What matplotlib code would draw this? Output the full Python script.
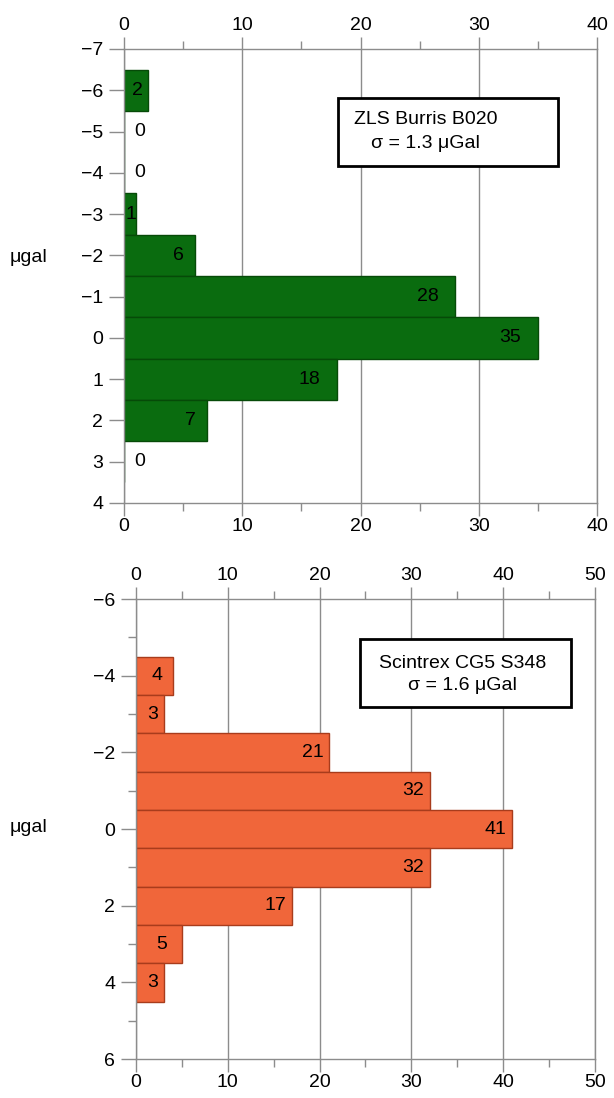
import matplotlib.pyplot as plt
from matplotlib.ticker import MultipleLocator
from matplotlib.patches import Rectangle

plt.rcParams['font.family'] = ['Liberation Sans', 'DejaVu Sans']

# ZLS Burris B020 residuals (ugal) and counts
zls_bins = [-6, -5, -4, -3, -2, -1, 0, 1, 2, 3]
zls_counts = [2, 0, 0, 1, 6, 28, 35, 18, 7, 0]

# Scintrex CG5 S348 residuals (ugal) and counts
cg5_bins = [-4, -3, -2, -1, 0, 1, 2, 3, 4]
cg5_counts = [4, 3, 21, 32, 41, 32, 17, 5, 3]

grey = '#8c8c8c'
fs = 14

fig = plt.figure(figsize=(6.14, 10.98), dpi=100)
ax1 = fig.add_axes([0.2020, 0.5419, 0.7703, 0.4135])
ax2 = fig.add_axes([0.2215, 0.0355, 0.7475, 0.4189])


def style(ax, xmax, ymin, ymax, ymajor):
    ax.set_xlim(0, xmax)
    ax.set_ylim(ymax, ymin)  # inverted, negatives on top
    ax.xaxis.set_major_locator(MultipleLocator(10))
    ax.xaxis.set_minor_locator(MultipleLocator(5))
    ax.yaxis.set_major_locator(MultipleLocator(ymajor))
    ax.yaxis.set_minor_locator(MultipleLocator(1))
    ax.tick_params(axis='both', which='both', color=grey, width=1,
                   labelsize=fs, labelcolor='black')
    ax.tick_params(axis='x', which='both', top=True, labeltop=True,
                   bottom=True, labelbottom=True)
    ax.tick_params(axis='x', which='major', length=9, pad=2)
    ax.tick_params(axis='x', which='minor', length=6)
    ax.tick_params(axis='y', which='major', length=11, pad=4)
    ax.tick_params(axis='y', which='minor', length=6)
    ax.grid(axis='x', color=grey, lw=1)
    ax.set_axisbelow(True)
    for s in ax.spines.values():
        s.set_color(grey)
        s.set_linewidth(1)


# ---- top panel
style(ax1, 40, -7, 4, 1)
ax1.barh(zls_bins, zls_counts, height=1, color='#0a6c0f', edgecolor='#064a08', lw=1)
for b, v in zip(zls_bins, zls_counts):
    if v == 0:
        ax1.text(1.3, b, str(v), ha='center', va='center', fontsize=fs)
    elif v <= 2:
        ax1.text(v / 2 + 0.1, b, str(v), ha='center', va='center', fontsize=fs)
    elif v < 10:
        ax1.text(v - 0.9, b, str(v), ha='right', va='center', fontsize=fs)
    else:
        ax1.text(v - 1.4, b, str(v), ha='right', va='center', fontsize=fs)

ax1.add_patch(Rectangle((18.1, -5.81), 18.6, 1.64, facecolor='white',
                        edgecolor='black', lw=2, zorder=3))
ax1.text(25.5, -5.28, 'ZLS Burris B020', ha='center', va='center', fontsize=fs, zorder=4)
ax1.text(25.5, -4.72, 'σ = 1.3 μGal', ha='center', va='center', fontsize=fs, zorder=4)

# ---- bottom panel
style(ax2, 50, -6, 6, 2)
ax2.barh(cg5_bins, cg5_counts, height=1, color='#f0663a', edgecolor='#a83c1c', lw=1)
for b, v in zip(cg5_bins, cg5_counts):
    if v <= 5:
        ax2.text(v / 2 + 0.3, b, str(v), ha='center', va='center', fontsize=fs)
    else:
        ax2.text(v - 0.6, b, str(v), ha='right', va='center', fontsize=fs)

ax2.add_patch(Rectangle((24.4, -4.96), 23.0, 1.78, facecolor='white',
                        edgecolor='black', lw=2, zorder=3))
ax2.text(35.6, -4.33, 'Scintrex CG5 S348', ha='center', va='center', fontsize=fs, zorder=4)
ax2.text(35.6, -3.75, 'σ = 1.6 μGal', ha='center', va='center', fontsize=fs, zorder=4)

fig.text(0.016, 1 - 257 / 1098, 'μgal', ha='left', va='center', fontsize=fs)
fig.text(0.016, 1 - 828 / 1098, 'μgal', ha='left', va='center', fontsize=fs)

fig.savefig('out.png', dpi=100)
